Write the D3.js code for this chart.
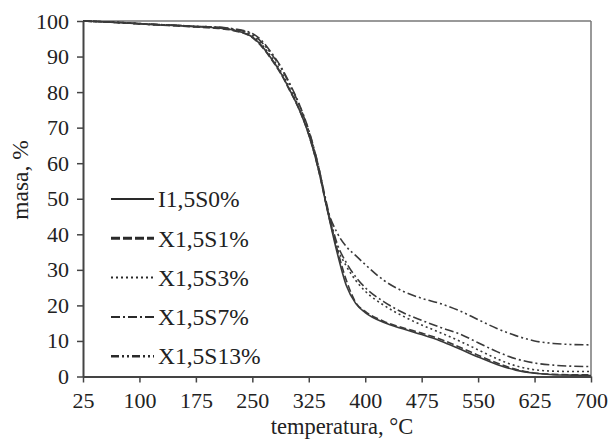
<!DOCTYPE html>
<html>
<head>
<meta charset="utf-8">
<script src="https://cdn.jsdelivr.net/npm/d3@7"></script>
<style>
  body { margin: 0; background: #fff; }
  svg { display: block; }
  text { font-family: "Liberation Serif", "Times New Roman", serif; fill: #222; }
</style>
</head>
<body>
<svg width="611" height="443"></svg>
<script>
const temps = [25, 50, 75, 100, 125, 150, 175, 200, 225, 250, 262.5, 275, 287.5, 300, 312.5, 325, 337.5, 350,
  362.5, 375, 387.5, 400, 425, 450, 475, 500, 525, 550, 575, 600, 625, 650, 675, 700];

const s0 = [100, 99.8, 99.5, 99.2, 98.9, 98.7, 98.4, 98.1, 97.4, 95.5, 93.0, 89.5, 85.5, 80.5, 75.0, 68.0, 58.5, 46.5,
  35.0, 25.5, 20.5, 18.0, 15.2, 13.4, 11.8, 10.0, 7.8, 5.5, 3.4, 1.8, 0.9, 0.5, 0.4, 0.3];
const s1 = [100, 99.8, 99.5, 99.2, 98.9, 98.6, 98.3, 98.0, 97.3, 95.3, 92.8, 89.3, 85.3, 80.3, 75.0, 68.0, 58.5, 46.5,
  36.0, 27.0, 20.8, 18.3, 15.5, 13.7, 12.2, 10.5, 8.3, 6.0, 3.8, 2.0, 1.0, 0.6, 0.5, 0.5];
const s3 = [100, 99.8, 99.5, 99.2, 98.9, 98.7, 98.4, 98.1, 97.5, 95.8, 93.4, 90.0, 86.0, 81.0, 75.5, 68.5, 59.0, 47.0,
  36.5, 31.0, 27.0, 24.0, 20.0, 17.0, 14.5, 12.3, 10.0, 7.5, 5.0, 3.0, 1.9, 1.5, 1.4, 1.4];
const s7 = [100, 99.8, 99.6, 99.3, 99.0, 98.8, 98.5, 98.3, 97.8, 96.5, 94.5, 91.2, 87.3, 82.3, 76.5, 69.3, 59.5, 47.5,
  37.5, 32.0, 28.0, 25.0, 21.0, 18.0, 15.8, 13.8, 12.0, 9.5, 7.0, 5.0, 3.8, 3.2, 2.9, 2.8];
const s13 = [100, 99.8, 99.6, 99.3, 99.0, 98.8, 98.5, 98.3, 97.7, 96.2, 94.0, 90.8, 87.0, 82.0, 76.3, 69.0, 59.5, 47.0,
  40.5, 36.5, 34.0, 31.5, 27.0, 24.0, 22.0, 20.5, 18.5, 16.0, 13.5, 11.5, 10.0, 9.3, 9.0, 8.9];

const seriesNames = ["I1,5S0%", "X1,5S1%", "X1,5S3%", "X1,5S7%", "X1,5S13%"];
const xTicks = [25, 100, 175, 250, 325, 400, 475, 550, 625, 700];
const yTicks = [0, 10, 20, 30, 40, 50, 60, 70, 80, 90, 100];

const series = [s0, s1, s3, s7, s13];
const dashes = ["none", "7,3", "2,3", "9,3,2,3", "9,3,2,3,2,3"];
const legendDashes = ["none", "9,3", "2,3", "9,3,2,3", "8,3,2,3,2,3"];
const legendWidths = [2, 3, 2, 2, 2.5];

const svg = d3.select("svg");
const plotLeft = 83, plotRight = 591, plotTop = 21, plotBottom = 376.5;

const x = d3.scaleLinear().domain([25, 700]).range([plotLeft, plotRight]);
const y = d3.scaleLinear().domain([0, 100]).range([plotBottom, plotTop]);

// frame
svg.append("line").attr("x1", plotLeft).attr("x2", plotRight).attr("y1", plotTop).attr("y2", plotTop)
  .attr("stroke", "#777").attr("stroke-width", 1.5);
svg.append("line").attr("x1", plotRight).attr("x2", plotRight).attr("y1", plotTop).attr("y2", plotBottom)
  .attr("stroke", "#777").attr("stroke-width", 1.5);

const line = d3.line()
  .x((d, i) => x(temps[i]))
  .y(d => y(d))
  .curve(d3.curveMonotoneX);

const linesG = svg.append("g");
series.forEach((s, k) => {
  linesG.append("path")
    .attr("d", line(s))
    .attr("fill", "none")
    .attr("stroke", "#3a3a3a")
    .attr("stroke-width", 1.6)
    .attr("stroke-dasharray", dashes[k]);
});

// axes
const xAxis = svg.append("g")
  .attr("transform", `translate(0,${plotBottom})`)
  .call(d3.axisBottom(x).tickValues(xTicks).tickSize(6).tickPadding(10).tickSizeOuter(0));
const yAxis = svg.append("g")
  .attr("transform", `translate(${plotLeft},0)`)
  .call(d3.axisLeft(y).tickValues(yTicks).tickSize(6).tickPadding(8).tickSizeOuter(0));

[xAxis, yAxis].forEach(a => {
  a.select(".domain").attr("stroke", "#444").attr("stroke-width", 2);
  a.selectAll(".tick line").attr("stroke", "#444").attr("stroke-width", 1.5);
  a.selectAll(".tick text").attr("font-family", "Liberation Serif").attr("font-size", 22).attr("fill", "#222");
});

// axis titles
svg.append("text")
  .attr("x", 342).attr("y", 434)
  .attr("text-anchor", "middle")
  .attr("font-size", 22.5)
  .text("temperatura, °C");
svg.append("text")
  .attr("transform", "translate(28,180) rotate(-90)")
  .attr("text-anchor", "middle")
  .attr("font-size", 23.5)
  .text("masa, %");

// legend
const legend = svg.append("g");
seriesNames.forEach((name, i) => {
  const ly = 199 + i * 39.3;
  legend.append("line")
    .attr("x1", 111).attr("x2", 154).attr("y1", ly).attr("y2", ly)
    .attr("stroke", "#2a2a2a")
    .attr("stroke-width", legendWidths[i])
    .attr("stroke-dasharray", legendDashes[i]);
  legend.append("text")
    .attr("x", 158).attr("y", ly)
    .attr("dy", "0.35em")
    .attr("font-size", 23.5)
    .text(name);
});
</script>
</body>
</html>
